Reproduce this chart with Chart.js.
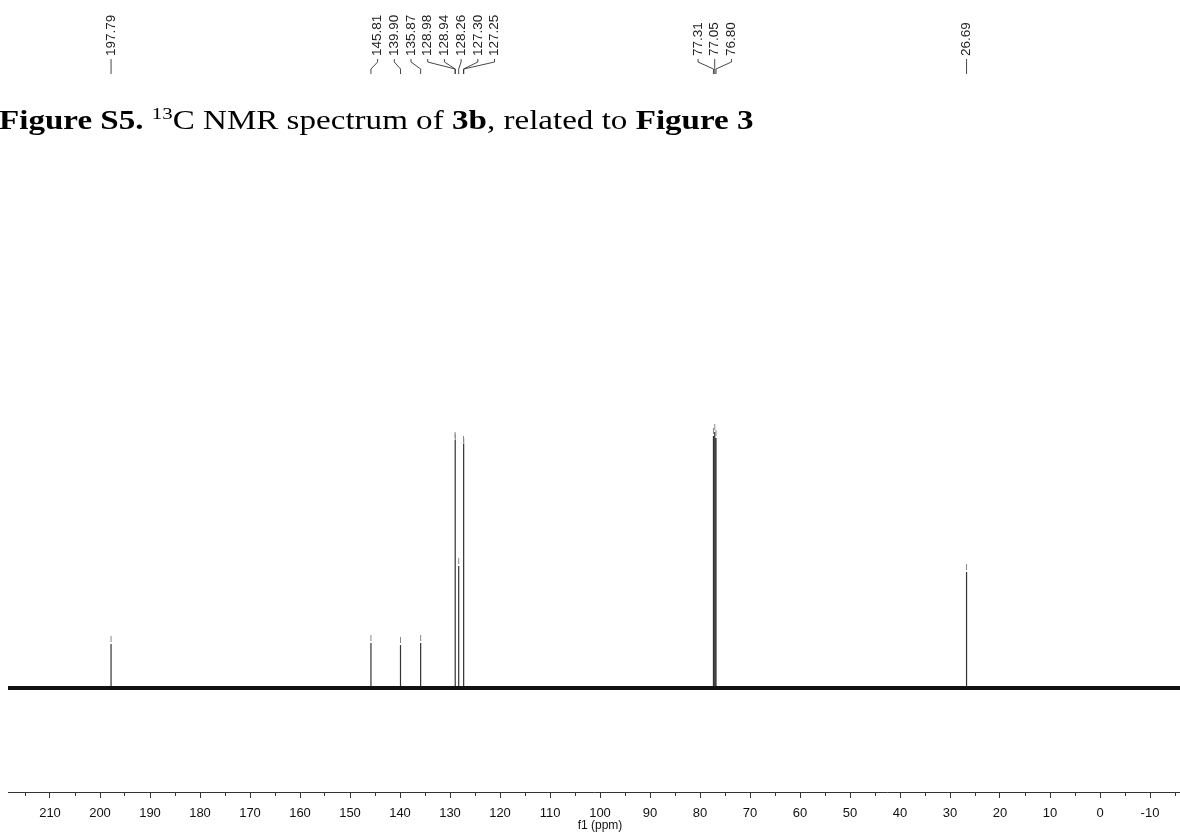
<!DOCTYPE html>
<html>
<head>
<meta charset="utf-8">
<script src="https://cdn.jsdelivr.net/npm/chart.js@4.4.0/dist/chart.umd.min.js"></script>
<style>
  html, body { margin: 0; padding: 0; background: #fff; }
  #wrap { position: relative; width: 1180px; height: 835px; overflow: hidden; }
  #nmr { position: absolute; left: 0; top: 0; }
  #caption {
    position: absolute; left: -1px; top: 107px;
    font-family: 'Liberation Serif', 'Times New Roman', serif;
    font-size: 27px; line-height: 1; color: #000; white-space: nowrap;
    transform: scaleX(1.225); transform-origin: 0 0;
  }
  #caption sup { font-size: 17px; vertical-align: 10px; line-height: 0; }
</style>
</head>
<body>
<div id="wrap">
  <canvas id="nmr" width="1180" height="835"></canvas>
  <div id="caption"><b>Figure S5.</b> <sup>13</sup>C NMR spectrum of <b>3b</b>, related to <b>Figure 3</b></div>
</div>
<script>
// ===== spectrum data (ppm, peak height above baseline) =====
const peakShifts  = [197.79, 145.81, 139.90, 135.87, 128.98, 128.94, 128.26, 127.30, 127.25, 77.31, 77.05, 76.80, 26.69];
const peakHeights = [44, 45, 43, 45, 248, 246, 122, 244, 242, 252, 256, 250, 116];
// peaks that share one fan of labels at the top
const labelGroups = [[0], [1, 2, 3, 4, 5, 6, 7, 8], [9, 10, 11], [12]];
const ppmLow = -16;
const ppmHigh = 218.4;
const tickStep = 5;

// spectrum trace: baseline with a stick at every peak
const trace = [{ x: ppmHigh, y: 0 }];
peakShifts.forEach((p, i) => {
    trace.push({ x: p, y: 0 }, { x: p, y: peakHeights[i] }, { x: p, y: 0 });
});
trace.push({ x: ppmLow, y: 0 });

const markers = peakShifts.map((p, i) => ({ x: p, y: peakHeights[i] + 5 }));

// ===== peak labels + axis title drawn on top =====
const peakLabels = {
    id: 'peakLabels',
    afterDraw(chart) {
        const xs = chart.scales.x;
        const ctx = chart.ctx;
        ctx.save();
        ctx.font = "13.5px 'Liberation Sans', Arial, sans-serif";
        ctx.fillStyle = '#222';
        ctx.strokeStyle = '#333';
        ctx.lineWidth = 0.9;
        labelGroups.forEach(g => {
            const px = g.map(i => xs.getPixelForValue(peakShifts[i]));
            const mid = px.reduce((a, b) => a + b, 0) / px.length;
            g.forEach((idx, k) => {
                const lx = mid + (k - (g.length - 1) / 2) * 16.7;
                ctx.save();
                ctx.translate(lx, 56);
                ctx.rotate(-Math.PI / 2);
                ctx.textAlign = 'left';
                ctx.textBaseline = 'middle';
                ctx.fillText(peakShifts[idx].toFixed(2), 0, 0);
                ctx.restore();
                ctx.beginPath();
                ctx.moveTo(lx, 59);
                ctx.lineTo(lx, 62);
                ctx.lineTo(px[k], 69);
                ctx.lineTo(px[k], 74);
                ctx.stroke();
            });
        });
        // axis title sits under the middle of the labelled ticks
        ctx.font = "12px 'Liberation Sans', Arial, sans-serif";
        ctx.fillStyle = '#111';
        ctx.textAlign = 'center';
        ctx.textBaseline = 'middle';
        ctx.fillText('f1 (ppm)', xs.getPixelForValue(100), 826);
        ctx.restore();
    }
};

new Chart(document.getElementById('nmr'), {
    type: 'line',
    data: {
        datasets: [
            {
                label: 'baseline',
                data: [{ x: ppmHigh, y: 0 }, { x: ppmLow, y: 0 }],
                borderColor: '#111',
                borderWidth: 4,
                pointRadius: 0,
            },
            {
                label: 'markers',
                data: markers,
                showLine: false,
                pointStyle: 'line',
                rotation: 90,
                pointRadius: 3,
                borderColor: '#888',
                borderWidth: 1,
            },
            {
                label: '13C',
                data: trace,
                borderColor: '#333',
                borderWidth: 1.2,
                pointRadius: 0,
                tension: 0,
            }
        ]
    },
    options: {
        responsive: false,
        animation: false,
        devicePixelRatio: 1,
        layout: { autoPadding: false, padding: { left: 8, right: 0, top: 150, bottom: 0 } },
        plugins: { legend: { display: false }, tooltip: { enabled: false } },
        scales: {
            x: {
                type: 'linear',
                reverse: true,
                min: ppmLow,
                max: ppmHigh,
                afterFit: s => { s.height = 43; s.paddingLeft = 0; s.paddingRight = 0; },
                border: { display: true, color: '#333', width: 1 },
                grid: {
                    drawOnChartArea: false,
                    drawTicks: true,
                    tickLength: 6,
                    tickColor: '#333',
                    tickBorderDash: c => (c.tick && c.tick.value % 10 !== 0) ? [3, 20] : [],
                },
                ticks: {
                    stepSize: tickStep,
                    includeBounds: false,
                    autoSkip: false,
                    maxRotation: 0,
                    padding: 8,
                    color: '#111',
                    font: { family: "'Liberation Sans', Arial, sans-serif", size: 13 },
                    callback: v => (v % 10 === 0 ? String(v) : ''),
                },
            },
            y: {
                display: false,
                min: -104,
                max: 538,
            }
        }
    },
    plugins: [peakLabels]
});
</script>
</body>
</html>
